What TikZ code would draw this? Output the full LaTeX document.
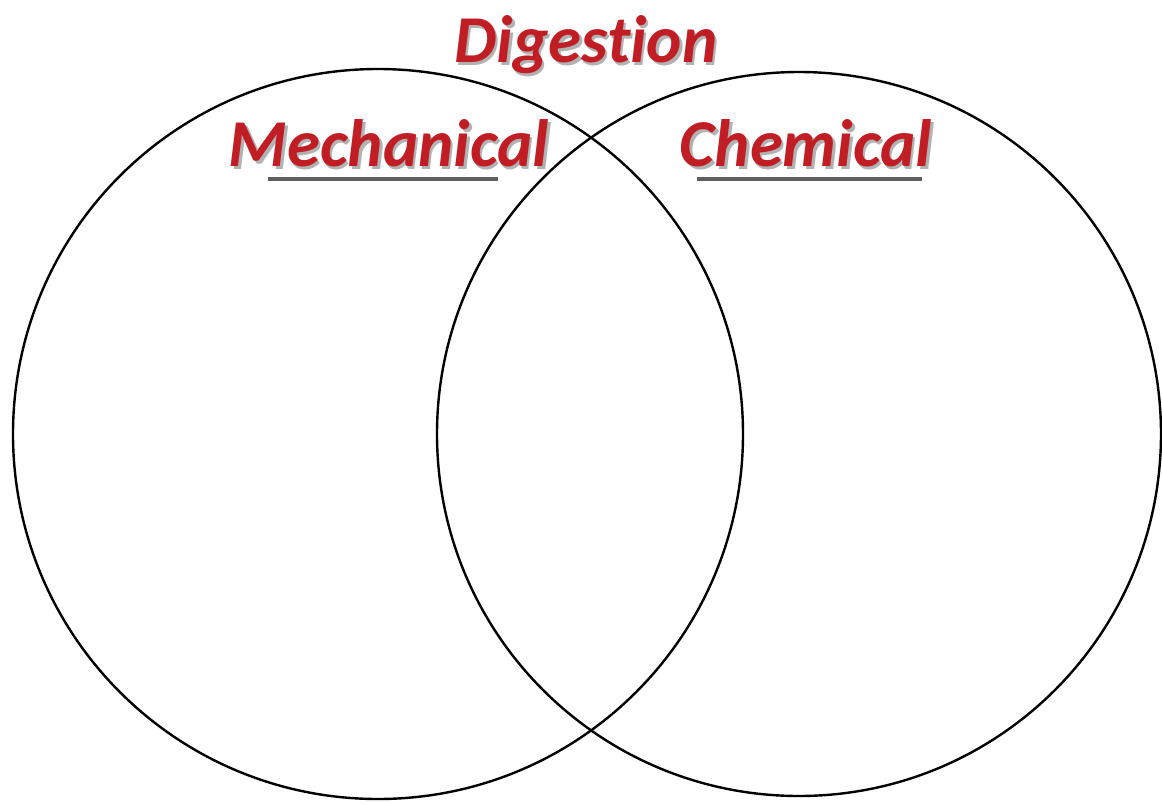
\documentclass[tikz,border=0pt]{standalone}
\usepackage{fontspec}
\setmainfont{Carlito}[Ligatures=NoCommon]
\usepackage{xcolor}
\usetikzlibrary{positioning,calc}
\definecolor{titlered}{RGB}{192,30,36}
\definecolor{linegray}{RGB}{95,95,95}
\newcommand{\shtext}[1]{\makebox[0pt][l]{\raisebox{-1.6pt}{\hspace{1.2pt}\color{black!30}#1}}#1}

\begin{document}
\begin{tikzpicture}[
    x=0.5pt, y=-0.5pt,
    venn/.style={draw, circle, line width=1.2pt, minimum size=365pt, inner sep=0pt},
    title/.style={font=\fontsize{33.5}{33.5}\selectfont\bfseries\itshape, text=titlered, inner sep=0pt, anchor=base},
    uline/.style={draw=linegray, line width=2.2pt}
  ]
  \useasboundingbox (0,0) rectangle (1162,804);
  % the two sets
  \node[venn] (mechc) at (378,434) {};
  \node[venn, minimum size=362pt] (chemc) at (799,434) {};

  % headings
  \node[title] (dig) at (586,62) {\shtext{Digestion}};
  \node[title] (mech) at (389,166) {\shtext{Mechanical}};
  \node[title] (chem) at (806,166) {\shtext{Chemical}};

  % underlines
  \draw[uline] ($(mech.base west)+(40,13)$) -- ($(mech.base west)+(270,13)$);
  \draw[uline] ($(chem.base west)+(17,13)$) -- ($(chem.base west)+(242,13)$);
\end{tikzpicture}
\end{document}
